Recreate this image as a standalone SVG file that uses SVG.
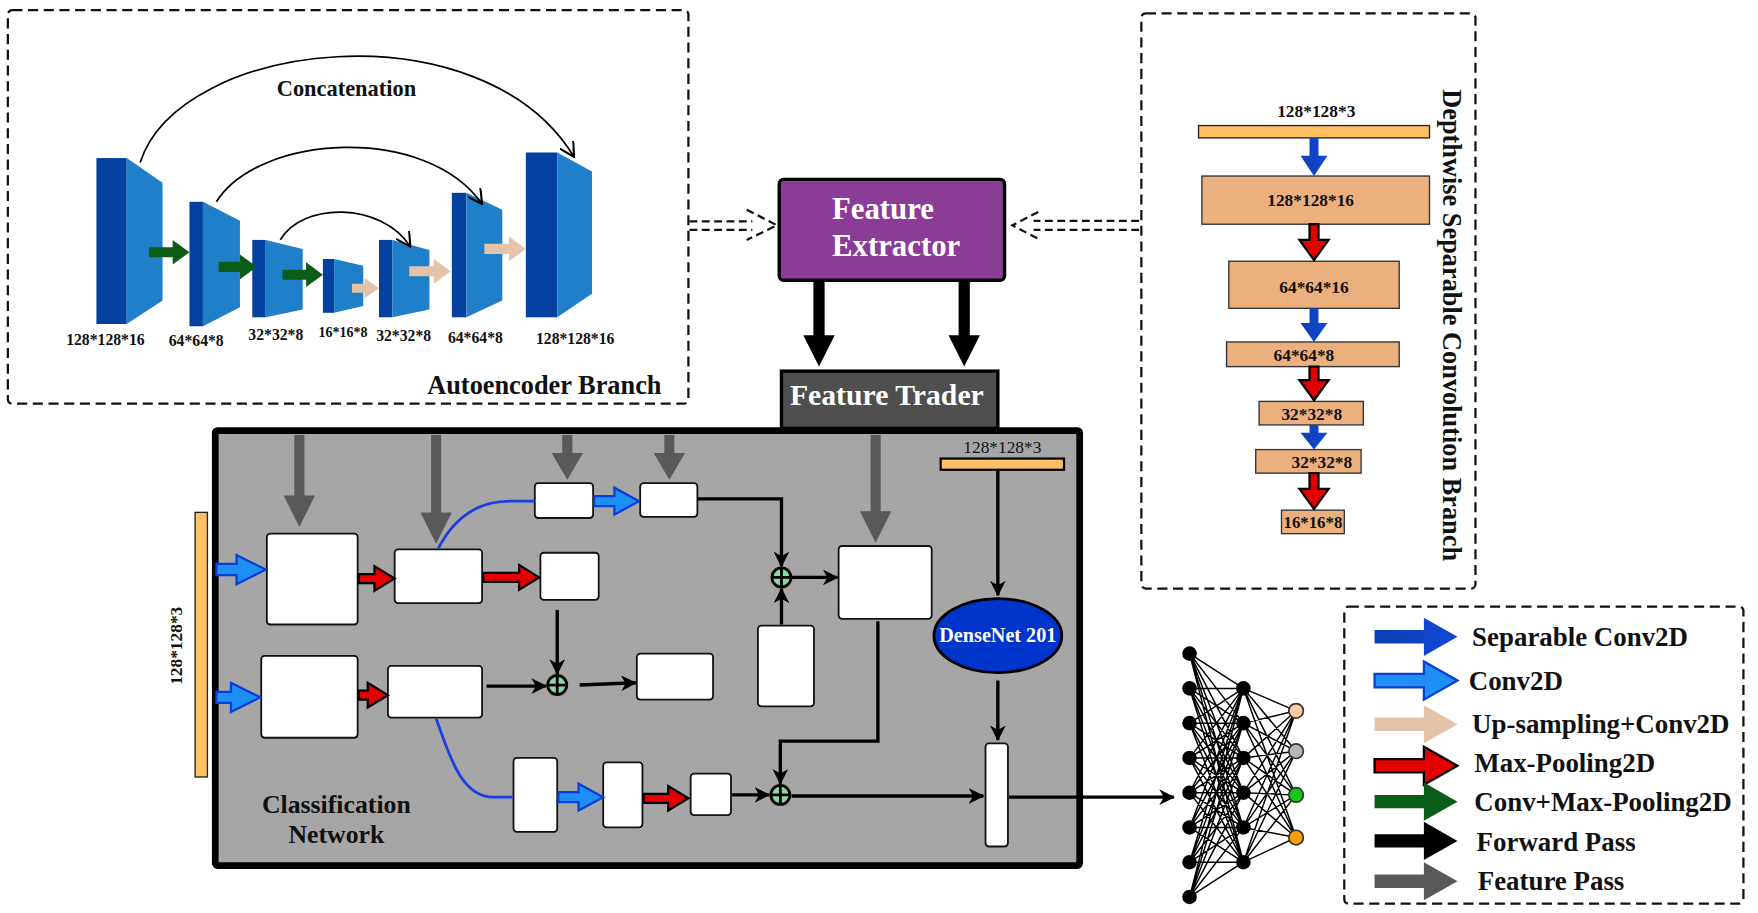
<svg xmlns="http://www.w3.org/2000/svg" width="1758" height="913" viewBox="0 0 1758 913">
  <defs>
    <style>
      .t { font-family: "Liberation Serif", "Times New Roman", serif; font-weight: bold; fill: #111; }
      .tw { font-family: "Liberation Serif", "Times New Roman", serif; font-weight: bold; fill: #fff; }
      .frame { fill: none; stroke: #111; stroke-width: 2; stroke-dasharray: 9 5; }
      .wbox { fill: #fff; stroke: #111; stroke-width: 1.6; }
      .dwbox { fill: #ECB07E; stroke: #333; stroke-width: 1.2; }
      .obar { fill: #FFC064; stroke: #222; stroke-width: 1.2; }
      .dark { fill: #0340A0; }
      .light { fill: #1F7FC8; }
      .grn { fill: #0B5C17; }
      .tan { fill: #E4C3A8; }
      .sep { fill: url(#sepGrad); }
      .conv { fill: #1E90F5; stroke: #0A3ED6; stroke-width: 2; stroke-linejoin: miter; }
      .pool { fill: #E30000; stroke: #000; stroke-width: 2; stroke-linejoin: miter; }
      .feat { fill: #595959; }
      .fwdA { fill: #000; }
      .fwd { fill: none; stroke: #000; stroke-width: 3; marker-end: url(#ah); }
      .skip { fill: none; stroke: #000; stroke-width: 1.5; marker-end: url(#open); }
      .curve { fill: none; stroke: #1A3FE0; stroke-width: 2.5; }
      .dash { fill: none; stroke: #111; stroke-width: 2; stroke-dasharray: 7 4; }
      .nn { fill: none; stroke: #000; stroke-width: 1.3; }
    </style>
    <linearGradient id="sepGrad" x1="0" y1="0" x2="1" y2="0">
      <stop offset="0" stop-color="#0C3FB0"/>
      <stop offset="1" stop-color="#1248D8"/>
    </linearGradient>
    <marker id="ah" viewBox="0 0 14 14" refX="13" refY="7" markerWidth="14" markerHeight="14" markerUnits="userSpaceOnUse" orient="auto">
      <path d="M0,0 L14,7 L0,14 L4,7 Z" fill="#000"/>
    </marker>
    <marker id="open" viewBox="0 0 12 12" refX="11" refY="6" markerWidth="14" markerHeight="14" markerUnits="userSpaceOnUse" orient="auto">
      <path d="M0,0 L11,6 L0,12" fill="none" stroke="#000" stroke-width="1.6"/>
    </marker>
    <g id="plus">
      <circle r="8.5" fill="#8ED6A6" stroke="#000" stroke-width="2.5"/>
      <path d="M-8,0 H8 M0,-8 V8" stroke="#000" stroke-width="2.5"/>
    </g>
  </defs>

  <rect width="1758" height="913" fill="#fff"/>

  <g transform="scale(1.121173)">

    <!-- Autoencoder branch -->
    <g id="autoencoder">
      <rect class="frame" x="7" y="9" width="607" height="351" rx="4"/>
      <text class="t" x="309" y="86" font-size="20" text-anchor="middle">Concatenation</text>
      <text class="t" x="590" y="351" font-size="23.5" text-anchor="end">Autoencoder Branch</text>

      <rect class="dark" x="86" y="141" width="27" height="148"/>
      <polygon class="light" points="113,141 145,163 145,268 113,289"/>
      <rect class="dark" x="169" y="180" width="12" height="111"/>
      <polygon class="light" points="181,180 214,197 214,274 181,291"/>
      <rect class="dark" x="225" y="214" width="12" height="69"/>
      <polygon class="light" points="237,214 270,222 270,276 237,283"/>
      <rect class="dark" x="288" y="231" width="10" height="48"/>
      <polygon class="light" points="298,231 324,237 324,273 298,279"/>
      <rect class="dark" x="338" y="214" width="12" height="69"/>
      <polygon class="light" points="350,214 383,223 383,276 350,283"/>
      <rect class="dark" x="403" y="172" width="13" height="111"/>
      <polygon class="light" points="416,172 448,187 448,268 416,283"/>
      <rect class="dark" x="469" y="136" width="28" height="147"/>
      <polygon class="light" points="497,136 528,153 528,262 497,283"/>

      <polygon class="grn" points="133,220.5 154,220.5 154,214 169,225 154,236 154,229.5 133,229.5"/>
      <polygon class="grn" points="195,233.5 214,233.5 214,227 229,238 214,249 214,242.5 195,242.5"/>
      <polygon class="grn" points="252,240.5 273,240.5 273,234 288,245 273,256 273,249.5 252,249.5"/>
      <polygon class="tan" points="314,253 325,253 325,248 338,257 325,266 325,261 314,261"/>
      <polygon class="tan" points="365,237.5 387,237.5 387,231 402,242 387,253 387,246.5 365,246.5"/>
      <polygon class="tan" points="432,217.5 454,217.5 454,211 469,222 454,233 454,226.5 432,226.5"/>

      <path class="skip" d="M125,145 C160,35 430,5 512,140"/>
      <path class="skip" d="M193,180 C230,120 380,110 430,182"/>
      <path class="skip" d="M250,214 C270,180 340,180 366,220"/>

      <text class="t" x="94" y="308" font-size="14" text-anchor="middle">128*128*16</text>
      <text class="t" x="175" y="309" font-size="14" text-anchor="middle">64*64*8</text>
      <text class="t" x="246" y="303" font-size="14" text-anchor="middle">32*32*8</text>
      <text class="t" x="306" y="301" font-size="12.5" text-anchor="middle">16*16*8</text>
      <text class="t" x="360" y="304" font-size="14" text-anchor="middle">32*32*8</text>
      <text class="t" x="424" y="306" font-size="14" text-anchor="middle">64*64*8</text>
      <text class="t" x="513" y="307" font-size="14" text-anchor="middle">128*128*16</text>
    </g>

    <!-- Feature extractor -->
    <g id="feature-extractor">
      <rect x="695" y="160" width="201" height="90" rx="4" fill="#8A3C97" stroke="#000" stroke-width="3"/>
      <text class="tw" x="742" y="195" font-size="27.5">Feature</text>
      <text class="tw" x="742" y="228" font-size="27.5">Extractor</text>
    </g>

    <!-- Depthwise separable convolution branch -->
    <g id="depthwise">
      <rect class="frame" x="1018" y="12" width="298" height="513" rx="4"/>
      <text class="t" font-size="23.5" text-anchor="middle" transform="translate(1287,290) rotate(90)">Depthwise Separable Convolution Branch</text>
      <text class="t" x="1174" y="104" font-size="15.5" text-anchor="middle">128*128*3</text>
      <rect class="obar" x="1069" y="112" width="206" height="11"/>
      <rect class="dwbox" x="1072" y="157" width="203" height="43"/>
      <rect class="dwbox" x="1096" y="233" width="152" height="42"/>
      <rect class="dwbox" x="1094" y="305" width="154" height="22"/>
      <rect class="dwbox" x="1123" y="358" width="93" height="21"/>
      <rect class="dwbox" x="1120" y="401" width="94" height="21"/>
      <rect class="dwbox" x="1143" y="455" width="56" height="21"/>
      <text class="t" x="1169" y="184" font-size="15.5" text-anchor="middle">128*128*16</text>
      <text class="t" x="1172" y="261" font-size="15.5" text-anchor="middle">64*64*16</text>
      <text class="t" x="1163" y="322" font-size="15.5" text-anchor="middle">64*64*8</text>
      <text class="t" x="1170" y="375" font-size="15.5" text-anchor="middle">32*32*8</text>
      <text class="t" x="1179" y="417" font-size="15.5" text-anchor="middle">32*32*8</text>
      <text class="t" x="1171" y="471" font-size="15" text-anchor="middle">16*16*8</text>
      <polygon class="sep" points="1168,123 1176,123 1176,139 1184,139 1172,157 1160,139 1168,139"/>
      <polygon class="sep" points="1168,275 1176,275 1176,288 1184,288 1172,305 1160,288 1168,288"/>
      <polygon class="sep" points="1168,379 1176,379 1176,386 1184,386 1172,401 1160,386 1168,386"/>
      <polygon class="pool" points="1168,200 1176,200 1176,214 1185,214 1172,232 1159,214 1168,214"/>
      <polygon class="pool" points="1168,327 1176,327 1176,339 1185,339 1172,357 1159,339 1168,339"/>
      <polygon class="pool" points="1168,422 1176,422 1176,436 1185,436 1172,454 1159,436 1168,436"/>
    </g>

    <!-- Classification network -->
    <g id="classification">
      <rect x="192" y="384" width="771" height="388" fill="#A6A6A6" stroke="#000" stroke-width="6" rx="2"/>
      <text class="t" x="300" y="725" font-size="23" text-anchor="middle">Classification</text>
      <text class="t" x="300" y="752" font-size="23" text-anchor="middle">Network</text>

      <rect class="wbox" x="238" y="476" width="81" height="81" rx="3"/>
      <rect class="wbox" x="352" y="490" width="78" height="48" rx="3"/>
      <rect class="wbox" x="482" y="493" width="52" height="42" rx="3"/>
      <rect class="wbox" x="477" y="431" width="52" height="31" rx="3"/>
      <rect class="wbox" x="571" y="431" width="51" height="30" rx="3"/>
      <rect class="wbox" x="233" y="585" width="86" height="73" rx="3"/>
      <rect class="wbox" x="346" y="594" width="84" height="46" rx="3"/>
      <rect class="wbox" x="568" y="583" width="68" height="41" rx="3"/>
      <rect class="wbox" x="676" y="558" width="50" height="72" rx="3"/>
      <rect class="wbox" x="748" y="487" width="83" height="65" rx="3"/>
      <rect class="wbox" x="458" y="676" width="39" height="66" rx="3"/>
      <rect class="wbox" x="538" y="680" width="35" height="58" rx="3"/>
      <rect class="wbox" x="616" y="690" width="36" height="37" rx="3"/>
      <rect class="wbox" x="879" y="663" width="20" height="92" rx="3"/>

      <text x="894" y="404" font-size="15.5" text-anchor="middle" font-family="Liberation Serif, serif" fill="#111">128*128*3</text>
      <rect x="839" y="409" width="110" height="10" fill="#FFC064" stroke="#000" stroke-width="2"/>
      <ellipse cx="890" cy="567" rx="57" ry="33" fill="#0035CC" stroke="#000" stroke-width="2.5"/>
      <text class="tw" x="890" y="573" font-size="18" text-anchor="middle">DenseNet 201</text>

      <use href="#plus" x="697" y="515"/>
      <use href="#plus" x="497" y="611"/>
      <use href="#plus" x="696" y="709"/>
    </g>

    <!-- Feature trader -->
    <g id="feature-trader">
      <rect x="697" y="331" width="193" height="51" fill="#4F4F4F" stroke="#000" stroke-width="3"/>
      <text class="tw" x="791" y="361" font-size="26.5" text-anchor="middle">Feature Trader</text>
    </g>

    <!-- Input image strip -->
    <g id="input">
      <rect class="obar" x="174" y="457" width="11" height="236"/>
      <text class="t" font-size="15.5" text-anchor="middle" transform="translate(162,576) rotate(-90)">128*128*3</text>
    </g>

    <!-- Dense output network -->
    <g id="dense-net">
      <path class="nn" d="M1061 583L1109 614M1061 583L1109 645M1061 583L1109 676M1061 583L1109 707M1061 583L1109 738M1061 583L1109 769
M1061 614L1109 614M1061 614L1109 645M1061 614L1109 676M1061 614L1109 707M1061 614L1109 738M1061 614L1109 769
M1061 645L1109 614M1061 645L1109 645M1061 645L1109 676M1061 645L1109 707M1061 645L1109 738M1061 645L1109 769
M1061 676L1109 614M1061 676L1109 645M1061 676L1109 676M1061 676L1109 707M1061 676L1109 738M1061 676L1109 769
M1061 707L1109 614M1061 707L1109 645M1061 707L1109 676M1061 707L1109 707M1061 707L1109 738M1061 707L1109 769
M1061 738L1109 614M1061 738L1109 645M1061 738L1109 676M1061 738L1109 707M1061 738L1109 738M1061 738L1109 769
M1061 769L1109 614M1061 769L1109 645M1061 769L1109 676M1061 769L1109 707M1061 769L1109 738M1061 769L1109 769
M1061 800L1109 614M1061 800L1109 645M1061 800L1109 676M1061 800L1109 707M1061 800L1109 738M1061 800L1109 769
M1109 614L1156 634M1109 614L1156 670M1109 614L1156 709M1109 614L1156 747
M1109 645L1156 634M1109 645L1156 670M1109 645L1156 709M1109 645L1156 747
M1109 676L1156 634M1109 676L1156 670M1109 676L1156 709M1109 676L1156 747
M1109 707L1156 634M1109 707L1156 670M1109 707L1156 709M1109 707L1156 747
M1109 738L1156 634M1109 738L1156 670M1109 738L1156 709M1109 738L1156 747
M1109 769L1156 634M1109 769L1156 670M1109 769L1156 709M1109 769L1156 747"/>
      <g fill="#000">
        <circle cx="1061" cy="583" r="6.5"/><circle cx="1061" cy="614" r="6.5"/>
        <circle cx="1061" cy="645" r="6.5"/><circle cx="1061" cy="676" r="6.5"/>
        <circle cx="1061" cy="707" r="6.5"/><circle cx="1061" cy="738" r="6.5"/>
        <circle cx="1061" cy="769" r="6.5"/><circle cx="1061" cy="800" r="6.5"/>
        <circle cx="1109" cy="614" r="6.5"/><circle cx="1109" cy="645" r="6.5"/>
        <circle cx="1109" cy="676" r="6.5"/><circle cx="1109" cy="707" r="6.5"/>
        <circle cx="1109" cy="738" r="6.5"/><circle cx="1109" cy="769" r="6.5"/>
      </g>
      <g stroke="#333" stroke-width="1.5">
        <circle cx="1156" cy="634" r="6.5" fill="#FDC9A0"/>
        <circle cx="1156" cy="670" r="6.5" fill="#B5B5B5"/>
        <circle cx="1156" cy="709" r="6.5" fill="#14C814"/>
        <circle cx="1156" cy="747" r="6.5" fill="#FFA000"/>
      </g>
    </g>

    <!-- Legend -->
    <g id="legend">
      <rect class="frame" x="1199" y="541" width="356" height="265" rx="4"/>
      <polygon class="sep" points="1226,562 1270,562 1270,551 1300,568 1270,585 1270,574 1226,574"/>
      <polygon class="conv" points="1226,601 1270,601 1270,590 1300,607 1270,624 1270,613 1226,613"/>
      <polygon class="tan" points="1226,640 1270,640 1270,629 1300,646 1270,663 1270,652 1226,652"/>
      <polygon class="pool" points="1226,677 1270,677 1270,666 1300,683 1270,700 1270,689 1226,689"/>
      <polygon class="grn" points="1226,709 1270,709 1270,698 1300,715 1270,732 1270,721 1226,721"/>
      <polygon class="fwdA" points="1226,744 1270,744 1270,733 1300,750 1270,767 1270,756 1226,756"/>
      <polygon class="feat" points="1226,780 1270,780 1270,769 1300,786 1270,803 1270,792 1226,792"/>
      <text class="t" x="1313" y="576" font-size="24">Separable Conv2D</text>
      <text class="t" x="1310" y="615" font-size="24">Conv2D</text>
      <text class="t" x="1313" y="654" font-size="24">Up-sampling+Conv2D</text>
      <text class="t" x="1315" y="689" font-size="24">Max-Pooling2D</text>
      <text class="t" x="1315" y="723" font-size="24">Conv+Max-Pooling2D</text>
      <text class="t" x="1317" y="759" font-size="24">Forward Pass</text>
      <text class="t" x="1318" y="794" font-size="24">Feature Pass</text>
    </g>

    <!-- Connectors -->
    <g id="connectors">
      <!-- branch outputs into the feature extractor -->
      <path class="dash" d="M615,197.5 H671 M615,205 H671"/>
      <path class="dash" d="M666,187 L693,201 L666,214"/>
      <path class="dash" d="M1016,197 H922 M1016,205 H922"/>
      <path class="dash" d="M926,189 L903,201 L928,214"/>

      <!-- extractor to trader -->
      <polygon class="fwdA" points="725.5,250 735.5,250 735.5,299 744.5,299 730.5,327 716.5,299 725.5,299"/>
      <polygon class="fwdA" points="855,250 865,250 865,299 874,299 860,327 846,299 855,299"/>

      <!-- feature passes from the trader -->
      <polygon class="feat" points="262.5,388 271.5,388 271.5,442 281,442 267,470 253,442 262.5,442"/>
      <polygon class="feat" points="384.5,388 393.5,388 393.5,457 403,457 389,485 375,457 384.5,457"/>
      <polygon class="feat" points="501.5,388 510.5,388 510.5,404 520,404 506,428 492,404 501.5,404"/>
      <polygon class="feat" points="592.5,388 601.5,388 601.5,404 611,404 597,428 583,404 592.5,404"/>
      <polygon class="feat" points="776.5,388 785.5,388 785.5,456 795,456 781,484 767,456 776.5,456"/>

      <!-- convolution steps -->
      <polygon class="conv" points="193,503 211,503 211,495 237,508 211,521 211,513 193,513"/>
      <polygon class="conv" points="193,617 206,617 206,609 232,622 206,635 206,627 193,627"/>
      <polygon class="conv" points="530,442.5 548,442.5 548,435 570,447 548,459 548,451.5 530,451.5"/>
      <polygon class="conv" points="498,706.5 516,706.5 516,699 538,711 516,723 516,715.5 498,715.5"/>

      <!-- pooling steps -->
      <polygon class="pool" points="320,512 334,512 334,505 352,516 334,527 334,520 320,520"/>
      <polygon class="pool" points="431,511 463,511 463,504 481,515 463,526 463,519 431,519"/>
      <polygon class="pool" points="320,616 328,616 328,609 346,620 328,631 328,624 320,624"/>
      <polygon class="pool" points="574,708 596,708 596,701 614,712 596,723 596,716 574,716"/>

      <!-- branching curves -->
      <path class="curve" d="M391,489 C405,462 425,447 455,447 L477,447"/>
      <path class="curve" d="M389,641 C400,670 410,711 440,711 L458,711"/>

      <!-- forward passes -->
      <path class="fwd" d="M622,445 H697 V505"/>
      <path class="fwd" d="M697,557 V525"/>
      <path class="fwd" d="M706,515 H747"/>
      <path class="fwd" d="M497,544 V601"/>
      <path class="fwd" d="M434,612 H487"/>
      <path class="fwd" d="M517,611 L567,609"/>
      <path class="fwd" d="M783,554 V661 H696 V699"/>
      <path class="fwd" d="M653,709 H686"/>
      <path class="fwd" d="M706,710 H877"/>
      <path class="fwd" d="M890,420 V531"/>
      <path class="fwd" d="M890,607 V660"/>
      <path class="fwd" d="M900,711 H1047"/>
    </g>
  </g>
</svg>
